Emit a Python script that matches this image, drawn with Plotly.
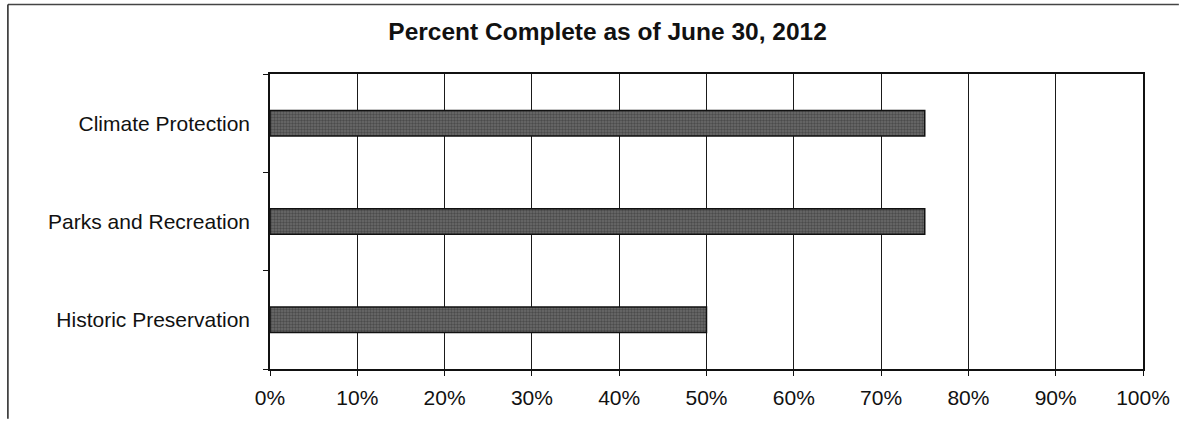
import plotly.graph_objects as go

categories = ["Historic Preservation", "Parks and Recreation", "Climate Protection"]
percent_complete = [50, 75, 75]
x_ticks = [0, 10, 20, 30, 40, 50, 60, 70, 80, 90, 100]
x_tick_labels = [f"{v}%" for v in x_ticks]
title_text = "Percent Complete as of June 30, 2012"

W, H = 1182, 421
L, R, T, B = 270, 36, 74, 50
pw, ph = W - L - R, H - T - B

def px_x(p):
    return (p - L) / pw

def px_y(p):
    return (H - B - p) / ph

fig = go.Figure()
fig.add_trace(go.Bar(
    y=categories,
    x=percent_complete,
    orientation="h",
    marker=dict(
        color="#5a5a5a",
        line=dict(color="#111111", width=1.5),
        pattern=dict(shape=".", fgcolor="#2a2a2a", bgcolor="#6c6c6c", size=3, solidity=0.5),
    ),
    hoverinfo="skip",
))

fig.update_layout(
    width=W, height=H,
    margin=dict(l=L, r=R, t=T, b=B),
    paper_bgcolor="white",
    plot_bgcolor="white",
    showlegend=False,
    bargap=0.74,
    font=dict(family="Arial, Liberation Sans, sans-serif", size=21, color="#111111"),
    title=dict(
        text="<b>" + title_text + "</b>",
        x=0.514, xref="container", xanchor="center",
        y=1 - 31 / H, yref="container", yanchor="middle",
        font=dict(size=24.5, color="#111111"),
    ),
    xaxis=dict(
        range=[0, 100],
        tickvals=x_ticks,
        ticktext=x_tick_labels,
        showgrid=True, gridcolor="#1a1a1a", gridwidth=1,
        showline=True, linecolor="#111111", linewidth=1.5, mirror=True,
        ticks="outside", ticklen=5, tickcolor="#111111",
        zeroline=False,
        ticklabelstandoff=4,
    ),
    yaxis=dict(
        categoryorder="array", categoryarray=categories,
        showgrid=False,
        showline=True, linecolor="#111111", linewidth=1.5, mirror=True,
        ticks="outside", ticklen=5, tickcolor="#111111",
        tickson="boundaries",
        ticklabelstandoff=14,
    ),
    shapes=[
        dict(type="line", xref="paper", yref="paper",
             x0=px_x(7), x1=px_x(W), y0=px_y(4), y1=px_y(4),
             line=dict(color="#444444", width=1.5)),
        dict(type="line", xref="paper", yref="paper",
             x0=px_x(7), x1=px_x(7), y0=px_y(4), y1=px_y(H),
             line=dict(color="#222222", width=1.5)),
    ],
)

fig.write_html("out.html")
